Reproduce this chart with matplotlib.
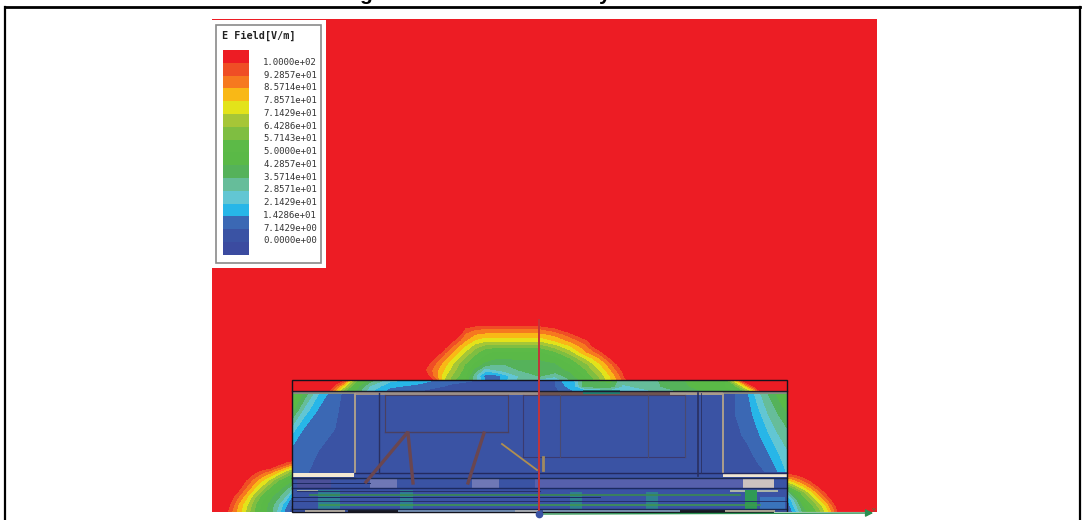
import matplotlib
matplotlib.use('Agg')
import matplotlib.pyplot as plt
from matplotlib.patches import Rectangle

# legend
legend_title = 'E Field[V/m]'
legend_levels = [0.0, 7.1429, 14.286, 21.429, 28.571, 35.714, 42.857, 50.0,
                 57.143, 64.286, 71.429, 78.571, 85.714, 92.857, 100.0]
legend_labels = ['1.0000e+02', '9.2857e+01', '8.5714e+01', '7.8571e+01', '7.1429e+01',
                 '6.4286e+01', '5.7143e+01', '5.0000e+01', '4.2857e+01', '3.5714e+01',
                 '2.8571e+01', '2.1429e+01', '1.4286e+01', '7.1429e+00', '0.0000e+00']
# low to high
band_colors = ['#3b4ba0', '#3a53a4', '#3b68b4', '#27b6e8', '#62c6d3', '#66bd9a', '#55b25a', '#5ab947',
               '#5cba47', '#7fbe41', '#a6c637', '#e3e31a', '#f9b816', '#f6791f', '#ef4e25', '#ed1c24']

# dome above the box
dome_x = [415, 425, 435, 445, 455, 465, 475, 485, 495, 505, 520, 540, 555, 570, 585, 600, 610, 620, 630, 640]
dome_y = [322, 328, 334, 340, 346, 352, 358, 364, 370, 376, 381]
dome_z = [
    [110, 110, 110, 110, 110, 110, 110, 110, 110, 110, 110, 110, 110, 110, 110, 110, 110, 110, 110, 110],
    [110, 110, 110, 110, 110, 100, 95, 94, 94, 94, 94, 94, 100, 110, 110, 110, 110, 110, 110, 110],
    [110, 110, 110, 110, 110, 92, 86, 84, 84, 84, 84, 84, 88, 97, 110, 110, 110, 110, 110, 110],
    [110, 110, 110, 110, 99, 87, 78, 74, 74, 74, 74, 74, 80, 88, 98, 110, 110, 110, 110, 110],
    [110, 110, 110, 103, 90, 78, 68, 62, 60, 60, 60, 60, 68, 78, 90, 110, 110, 110, 110, 110],
    [110, 110, 110, 94, 83, 71, 60, 52, 49, 49, 49, 49, 56, 68, 84, 97, 110, 110, 110, 110],
    [110, 110, 99, 87, 76, 64, 54, 47, 44, 44, 44, 44, 47, 57, 72, 86, 100, 110, 110, 110],
    [110, 104, 93, 81, 69, 57, 48, 40, 36, 36, 38, 40, 42, 50, 62, 78, 90, 104, 110, 110],
    [110, 100, 89, 77, 65, 54, 40, 24, 28, 32, 36, 40, 40, 44, 56, 72, 84, 98, 110, 110],
    [110, 105, 89, 72, 60, 52, 30, 12, 10, 18, 30, 36, 30, 40, 50, 66, 78, 92, 110, 110],
    [110, 110, 98, 70, 56, 48, 32, 14, 7, 20, 30, 22, 20, 34, 46, 62, 76, 90, 104, 110],
]

# thin strip between box top and top plate
strip_x = [320, 328, 336, 345, 355, 370, 390, 420, 450, 500, 540, 555, 565, 575, 585, 610, 622, 650, 665, 700, 725, 735, 745, 755, 765]
strip_y = [380, 386, 392]
strip_z = [
    [110, 110, 110, 98, 62, 40, 24, 18, 10, 5, 5, 7, 18, 22, 42, 45, 30, 30, 40, 45, 50, 78, 110, 110, 110],
    [110, 110, 95, 72, 48, 28, 16, 12, 6, 4, 5, 7, 14, 20, 40, 40, 28, 30, 38, 45, 50, 55, 78, 105, 110],
    [110, 100, 78, 55, 42, 22, 10, 6, 5, 4, 5, 6, 8, 14, 10, 20, 25, 28, 30, 42, 48, 50, 55, 75, 110],
]

# left and right panels inside the box
lpanel_x = [292, 305, 320, 335, 355]
lpanel_y = [393, 410, 430, 450, 473]
lpanel_z = [
    [58, 40, 20, 9, 3],
    [45, 25, 12, 8, 3],
    [24, 12, 9, 7, 3],
    [12, 9, 7, 3, 3],
    [9, 8, 3, 3, 3],
]
rpanel_x = [724, 735, 748, 758, 768, 778, 787]
rpanel_y = [393, 415, 435, 455, 472]
rpanel_z = [
    [3, 7, 14, 26, 36, 45, 50],
    [3, 7, 11, 18, 28, 35, 42],
    [3, 5, 9, 13, 20, 28, 32],
    [3, 3, 5, 9, 13, 20, 27],
    [3, 3, 3, 5, 8, 14, 22],
]

# lobes either side of the box base
llobe_x = [222, 230, 238, 246, 254, 262, 270, 278, 286, 292]
llobe_y = [458, 465, 472, 480, 488, 496, 504, 512]
llobe_z = [
    [110, 110, 110, 110, 110, 110, 110, 110, 110, 110],
    [110, 110, 110, 110, 110, 110, 110, 100, 92, 85],
    [110, 110, 110, 110, 102, 95, 88, 79, 68, 60],
    [110, 110, 110, 100, 90, 80, 70, 58, 50, 44],
    [110, 110, 104, 92, 80, 68, 56, 46, 38, 30],
    [110, 106, 94, 82, 68, 54, 45, 38, 28, 14],
    [110, 100, 86, 74, 60, 48, 40, 30, 16, 6],
    [108, 95, 83, 70, 57, 47, 40, 25, 10, 4],
]
rlobe_x = [787, 795, 803, 811, 819, 827, 835, 842]
rlobe_y = [470, 476, 484, 492, 500, 506, 512]
rlobe_z = [
    [110, 110, 110, 110, 110, 110, 110, 110],
    [92, 96, 102, 110, 110, 110, 110, 110],
    [62, 74, 84, 94, 105, 110, 110, 110],
    [30, 48, 62, 76, 90, 103, 110, 110],
    [12, 30, 50, 62, 76, 90, 105, 110],
    [8, 24, 42, 54, 66, 80, 98, 110],
    [5, 18, 36, 48, 60, 74, 92, 110],
]

# device geometry: (x0, x1, y, color, lw)
h_lines = [
    (292, 787, 391, '#1c1c2e', 1.0), (292, 355, 478, '#1c2a50', 1.0), (355, 787, 473, '#232a60', 1.0),
    (292, 787, 478, '#1c2a50', 1.0), (292, 787, 488, '#1c2a60', 1.0), (297, 540, 491, '#26306a', 0.8),
    (292, 370, 483, '#1c2a60', 0.7), (292, 787, 501, '#232a60', 0.6),
    (310, 740, 495, '#3a8a50', 1.2), (292, 600, 497, '#1c2a60', 0.7), (320, 760, 505, '#3f9a4a', 1.1),
    (292, 787, 509, '#1c2a50', 1.0), (523, 685, 457, '#3a3a70', 0.8), (385, 508, 432, '#4a4060', 1.0),
    (385, 508, 395, '#4a4060', 0.8), (523, 685, 395, '#4a4060', 0.8),
]
v_lines = [
    (379, 393, 473, '#2a3060', 1.0), (385, 395, 432, '#4a4060', 0.8), (508, 395, 432, '#4a4060', 0.8),
    (523, 395, 457, '#3a3a70', 0.8), (560, 395, 457, '#4a4a70', 0.8), (648, 395, 457, '#4a4a70', 0.8),
    (685, 395, 457, '#4a4a70', 0.8), (698, 393, 476, '#2a3060', 1.2), (701, 393, 473, '#2a3060', 0.6),
]
legs = [
    ([407, 366], [433, 482], '#6a4650', 2.4),
    ([408, 413], [433, 483], '#6a4650', 2.4),
    ([484, 468], [433, 483], '#6a4650', 2.4),
    ([502, 537], [444, 470], '#b08f50', 1.3),
    ([543, 543], [457, 470], '#a08a60', 2.0),
]
# (x, y, w, h, color)
blocks = [
    (355, 392, 183, 3, '#9c8f88'), (538, 392, 132, 3, '#6e5550'), (583, 390, 37, 4, '#1f7f72'),
    (670, 392, 53, 3, '#a89c8c'), (292, 392, 63, 2, '#8a8a80'), (723, 392, 64, 2, '#8a8a80'),
    (353.5, 393, 2.5, 80, '#a89c8c'), (721.5, 393, 2.5, 80, '#a89c8c'),
    (292, 473, 62, 4, '#f4e9d2'), (723, 473, 64, 4, '#f0e6d2'),
    (743, 478, 31, 10, '#cdc2c0'), (535, 478, 208, 10, '#5660ac'), (370, 478, 27, 10, '#6f78b6'),
    (472, 478, 27, 10, '#6f78b6'), (297, 478, 34, 10, '#4a4f98'),
    (297, 490, 43, 2, '#a9b4a8'), (730, 490, 48, 2, '#a9b4a8'),
    (318, 490, 22, 19, '#2f7f95'), (400, 490, 13, 19, '#2f7f95'), (570, 492, 12, 17, '#2f8090'),
    (646, 492, 12, 17, '#2f8090'), (745, 490, 12, 19, '#2f9a55'), (760, 497, 25, 12, '#3a74bc'),
    (305, 510, 40, 3, '#c9c0b0'), (348, 510, 50, 3, '#1a1a24'), (398, 510, 117, 3, '#7f9dc4'),
    (515, 510, 24, 3, '#bfc4c8'), (543, 510, 137, 3, '#8aa4c4'), (680, 510, 45, 3, '#1a1a24'),
    (725, 510, 50, 3, '#c9bfa8'),
]

fig = plt.figure(figsize=(10.82, 5.2), dpi=100)
ax = fig.add_axes([0, 0, 1, 1])
ax.set_xlim(0, 1082)
ax.set_ylim(520, 0)
ax.axis('off')

# frame around the figure and what is left of the cut off title
ax.plot([5, 5], [520, 6.5], color='black', lw=1.6)
ax.plot([5, 1080], [6.5, 6.5], color='black', lw=2.0)
ax.plot([1080, 1080], [6.5, 520], color='black', lw=1.6)
ax.text(366, 0, 'g', fontsize=15, fontweight='bold', family='Liberation Sans', ha='center', va='baseline')
ax.text(605, 0, 'y', fontsize=15, fontweight='bold', family='Liberation Sans', ha='center', va='baseline')

# field
ax.add_patch(Rectangle((212, 19), 665, 493, color=band_colors[-1], lw=0, zorder=1))
ax.add_patch(Rectangle((292, 392), 495, 120, color=band_colors[1], lw=0, zorder=3))
grids = [(dome_x, dome_y, dome_z, 2), (strip_x, strip_y, strip_z, 3), (lpanel_x, lpanel_y, lpanel_z, 4),
         (rpanel_x, rpanel_y, rpanel_z, 4), (llobe_x, llobe_y, llobe_z, 2), (rlobe_x, rlobe_y, rlobe_z, 2)]
for gx, gy, gz, order in grids:
    ax.contourf(gx, gy, gz, levels=legend_levels, colors=band_colors, extend='both',
                antialiased=False, zorder=order)

# device drawing
for x, y, w, h, c in blocks:
    ax.add_patch(Rectangle((x, y), w, h, facecolor=c, edgecolor='none', zorder=5))
for x0, x1, y, c, lw in h_lines:
    ax.plot([x0, x1], [y, y], color=c, lw=lw, zorder=6)
for x, y0, y1, c, lw in v_lines:
    ax.plot([x, x], [y0, y1], color=c, lw=lw, zorder=6)
for xs, ys, c, lw in legs:
    ax.plot(xs, ys, color=c, lw=lw, zorder=6)
ax.add_patch(Rectangle((292, 380), 495, 132, fill=False, edgecolor='#14141e', lw=1.0, zorder=7))

# axes triad
ax.plot([539, 539], [320, 512], color='#c4343a', lw=1.4, zorder=8)
ax.plot([775, 865], [512.5, 512.5], color='white', lw=1.5, zorder=8)
ax.annotate('', xy=(876, 513), xytext=(540, 514),
            arrowprops=dict(arrowstyle='-|>', color='#2a8f50', lw=1.0, mutation_scale=11), zorder=9)
ax.text(874, 510, 'Y', fontsize=4.5, color='#2a8f50', ha='center', va='center', zorder=9)
ax.plot([539], [514], 'o', color='#3a53a4', ms=4.5, zorder=9)

# legend box
ax.add_patch(Rectangle((212, 20), 114, 248, facecolor='white', edgecolor='none', zorder=10))
ax.add_patch(Rectangle((215.5, 24.5), 105, 238, facecolor='white', edgecolor='#8a8a8a', lw=1.2, zorder=11))
ax.text(222, 36, legend_title, family='DejaVu Sans Mono', fontweight='bold', fontsize=7.3,
        color='#222222', va='center', zorder=12)
for i, c in enumerate(band_colors[::-1]):
    ax.add_patch(Rectangle((222.5, 50 + i * 12.8), 26.5, 12.8, facecolor=c, edgecolor='none', zorder=12))
for i, lab in enumerate(legend_labels):
    ax.text(263, 62.3 + i * 12.75, lab, family='DejaVu Sans Mono', fontsize=6.5,
            color='#333333', va='center', zorder=12)

fig.savefig('out.png', dpi=100)
